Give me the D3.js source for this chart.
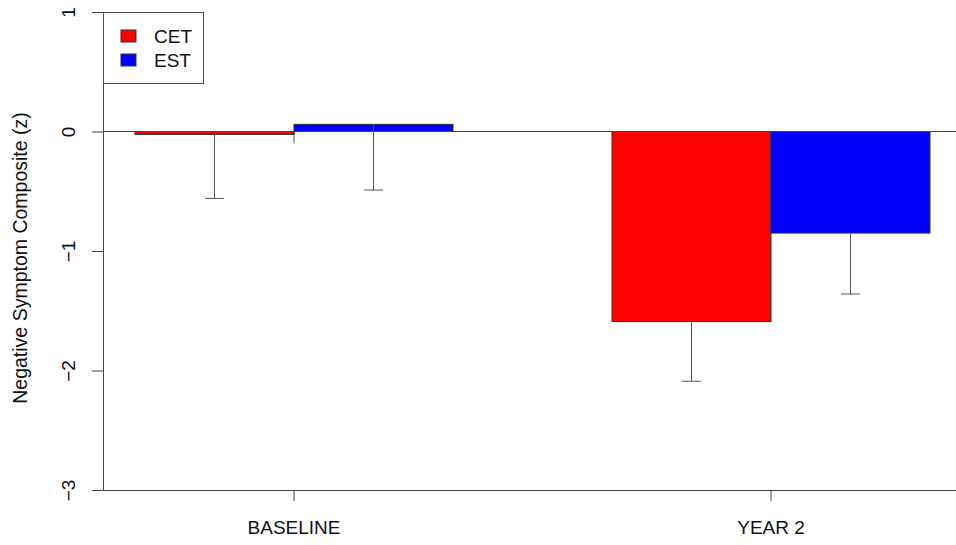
<!DOCTYPE html>
<meta charset="utf-8">
<html>
<head>
  <meta charset="utf-8">
  <title>Negative symptom composite</title>
</head>
<style>
  body { margin: 0; background: #fff; }
  svg text { font-family: "Liberation Sans", Arial, sans-serif; fill: #111; }
  .axis line, .axis path { stroke: #444; }
</style>
<body>
<svg width="956" height="545"></svg>
<script src="https://d3js.org/d3.v7.min.js"></script>
<script>

var groups = ["BASELINE", "YEAR 2"];
var series = ["CET", "EST"];
var colors = ["#ff0000", "#0000ff"];
// means per group, one array per series
var cetMeans = [-0.025, -1.59];
var estMeans = [0.06, -0.85];
// lower end of the error bars
var cetLower = [-0.56, -2.09];
var estLower = [-0.49, -1.36];
var yTicks = [-3, -2, -1, 0, 1];

var means = [cetMeans, estMeans];
var lowers = [cetLower, estLower];

var rows = [];
groups.forEach(function(g, gi) {
  series.forEach(function(s, si) {
    rows.push({group: g, series: s, si: si, value: means[si][gi], lower: lowers[si][gi]});
  });
});

var svg = d3.select("svg");

var x0 = d3.scaleBand().domain(groups).range([135, 930]).paddingInner(1 / 3).paddingOuter(0);
var x1 = d3.scaleBand().domain(series).range([0, x0.bandwidth()]);
var y = d3.scaleLinear().domain([-3, 1]).range([490, 12]);

// y axis, labels rotated like R
var yAxis = svg.append("g").attr("class", "axis")
  .attr("transform", "translate(103,0)")
  .call(d3.axisLeft(y).tickValues(yTicks).tickSize(11).tickSizeOuter(0)
    .tickFormat(function(d) { return d < 0 ? "\u2212" + Math.abs(d) : d; }));
yAxis.select(".domain").attr("stroke", "#444");
yAxis.selectAll("text")
  .attr("x", null).attr("dy", null)
  .attr("transform", "translate(-28,0) rotate(-90)")
  .attr("text-anchor", "middle")
  .style("font-size", "19px")
  .style("font-family", "'Liberation Sans', Arial, sans-serif")
  .attr("fill", "#111");

// x axis line across the bottom
var xAxis = svg.append("g").attr("class", "axis")
  .attr("transform", "translate(0,490)")
  .call(d3.axisBottom(x0).tickSize(11).tickSizeOuter(0));
xAxis.select(".domain").attr("d", "M103.5,0.5H956");
xAxis.selectAll(".tick line").attr("stroke", "#444");
xAxis.selectAll("text")
  .attr("y", 44).attr("dy", null)
  .style("font-size", "19px")
  .style("font-family", "'Liberation Sans', Arial, sans-serif")
  .attr("fill", "#111");

// small mark at group centre below zero
svg.append("g").selectAll("line").data(groups).enter().append("line")
  .attr("x1", function(d) { return x0(d) + x0.bandwidth() / 2; })
  .attr("x2", function(d) { return x0(d) + x0.bandwidth() / 2; })
  .attr("y1", y(0)).attr("y2", y(-0.1))
  .attr("stroke", "#555");

// bars
svg.append("g").selectAll("rect").data(rows).enter().append("rect")
  .attr("x", function(d) { return x0(d.group) + x1(d.series); })
  .attr("width", x1.bandwidth())
  .attr("y", function(d) { return y(Math.max(0, d.value)); })
  .attr("height", function(d) { return Math.abs(y(d.value) - y(0)); })
  .attr("fill", function(d) { return colors[d.si]; })
  .attr("stroke", "#333")
  .attr("stroke-width", 1);

// zero reference line
svg.append("line")
  .attr("x1", 103).attr("x2", 956)
  .attr("y1", y(0)).attr("y2", y(0))
  .attr("stroke", "#444");

// error bars (downward only)
var err = svg.append("g").attr("stroke", "#555");
err.selectAll("line.v").data(rows).enter().append("line").attr("class", "v")
  .attr("x1", function(d) { return x0(d.group) + x1(d.series) + x1.bandwidth() / 2; })
  .attr("x2", function(d) { return x0(d.group) + x1(d.series) + x1.bandwidth() / 2; })
  .attr("y1", function(d) { return y(d.value); })
  .attr("y2", function(d) { return y(d.lower); });
err.selectAll("line.c").data(rows).enter().append("line").attr("class", "c")
  .attr("x1", function(d) { return x0(d.group) + x1(d.series) + x1.bandwidth() / 2 - 9.5; })
  .attr("x2", function(d) { return x0(d.group) + x1(d.series) + x1.bandwidth() / 2 + 9.5; })
  .attr("y1", function(d) { return y(d.lower); })
  .attr("y2", function(d) { return y(d.lower); });

// y title
svg.append("text")
  .attr("transform", "translate(27,258) rotate(-90)")
  .attr("text-anchor", "middle")
  .style("font-size", "19.5px")
  .text("Negative Symptom Composite (z)");

// legend
var legend = svg.append("g");
legend.append("rect")
  .attr("x", 103.5).attr("y", 12.5).attr("width", 100).attr("height", 71)
  .attr("fill", "#fff").attr("stroke", "#555");
var item = legend.selectAll("g").data(series).enter().append("g")
  .attr("transform", function(d, i) { return "translate(0," + (i * 24) + ")"; });
item.append("rect")
  .attr("x", 121).attr("y", 30).attr("width", 15).attr("height", 12)
  .attr("fill", function(d, i) { return colors[i]; })
  .attr("stroke", "#333");
item.append("text")
  .attr("x", 154).attr("y", 43)
  .style("font-size", "19px")
  .text(function(d) { return d; });

</script>
</body>
</html>
